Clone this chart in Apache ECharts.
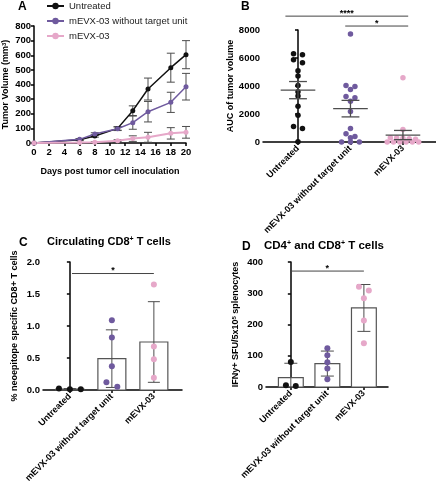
<!DOCTYPE html>
<html>
<head>
<meta charset="utf-8">
<script src="https://cdn.jsdelivr.net/npm/echarts@6/dist/echarts.min.js"></script>
<style>
  html, body { margin: 0; padding: 0; background: #fff; }
  #chart { width: 436px; height: 491px; }
</style>
</head>
<body>
<div id="chart"></div>
<script>
const groups = ["Untreated", "mEVX-03 without target unit", "mEVX-03"];
const colors = ["#111111", "#6f5a9e", "#e6a8c9"];

// A: tumor growth (mean ± SEM)
const days = [0, 6, 8, 11, 13, 15, 18, 20];
const volUntreated = [0, 22, 48, 100, 221, 369, 515, 604];
const semUntreated = [0, 5, 8, 12, 33, 75, 99, 96];
const volNoTarget = [0, 25, 62, 97, 139, 214, 278, 385];
const semNoTarget = [0, 5, 8, 12, 45, 70, 69, 91];
const volEvx = [0, 3, 5, 16, 30, 39, 66, 73];
const semEvx = [0, 2, 3, 6, 19, 34, 39, 40];

// B: AUC of tumor volume per mouse
const aucUntreated = [6300, 6230, 5876, 5664, 5097, 4720, 4035, 3587, 3280, 2549, 1912, 1109, 968, 20];
const aucNoTarget = [7717, 4035, 3965, 3752, 3257, 3162, 2903, 2171, 968, 590, 401, 300, 0, 0, 0];
const aucEvx = [4584, 897, 300, 280, 260, 240, 200, 0, 0, 0, 0, 0, 0];
const aucMean = [3705, 2383, 496];
const aucSem = [614, 590, 330];
const sigB = [[-0.24, 2.1, 8990], [0.9, 2.1, 8283]];
const sigBText = ["****", "*"];

// C: circulating CD8+ T cells
const cd8Untreated = [0.012, 0.025, 0.01];
const cd8NoTarget = [1.09, 0.82, 0.37, 0.12, 0.05];
const cd8Evx = [1.65, 0.68, 0.48, 0.19];
const cd8Mean = [0.015, 0.49, 0.75];
const cd8Sd = [0.008, 0.45, 0.63];
const sigC = [[0.05, 2, 1.82]];

// D: IFNy ELISpot
const sfuUntreated = [80, 6, 3];
const sfuNoTarget = [124, 102, 79, 59, 25];
const sfuEvx = [321, 309, 284, 213, 140];
const sfuMean = [30, 75, 253];
const sfuSd = [46, 40, 75];
const sigD = [[0, 2, 371]];

const font = "'Liberation Sans', Arial, sans-serif";
const axisColor = "#000";
const errColor = "#4d4d4d";

// spread dots with near-equal values sideways, centred on the group
function swarm(values, gi, tol, step) {
  const sorted = values.slice().sort((a, b) => b - a);
  const out = [];
  let i = 0;
  while (i < sorted.length) {
    let j = i;
    while (j + 1 < sorted.length && sorted[i] - sorted[j + 1] < tol) j++;
    const n = j - i + 1;
    for (let k = 0; k < n; k++) out.push([gi + (k - (n - 1) / 2) * step, sorted[i + k]]);
    i = j + 1;
  }
  return out;
}

function lineEl(x1, y1, x2, y2, color, width) {
  return { type: "line", shape: { x1, y1, x2, y2 }, style: { stroke: color, lineWidth: width } };
}

function valueAxis(gi, max, interval, name, nameGap, fmt) {
  return {
    type: "value", gridIndex: gi, min: 0, max, interval,
    name, nameLocation: "middle", nameGap, nameRotate: 90,
    nameTextStyle: {
      fontSize: 9, fontWeight: "bold", color: "#000", fontFamily: font,
      rich: { sup: { fontSize: 6, fontWeight: "bold", verticalAlign: "top", padding: [0, 0, 4, 0] } },
    },
    axisLine: { show: true, lineStyle: { color: axisColor, width: 1.5 } },
    axisTick: { show: true, length: 3, lineStyle: { color: axisColor, width: 1.5 } },
    axisLabel: { fontSize: 9.5, fontWeight: "bold", color: "#000", margin: 3, formatter: fmt || ((v) => String(v)) },
    splitLine: { show: false },
  };
}

function groupAxis(gi, min, max) {
  return {
    type: "value", gridIndex: gi, min, max,
    axisLine: { onZero: false, lineStyle: { color: axisColor, width: 1.5 } },
    axisTick: { customValues: [0, 1, 2], length: 3, lineStyle: { color: axisColor, width: 1.5 } },
    axisLabel: {
      customValues: [0, 1, 2], rotate: 45, margin: 5,
      fontSize: 9, fontWeight: "bold", color: "#000",
      formatter: (v) => groups[Math.round(v)],
    },
    splitLine: { show: false },
  };
}

function errorBars(gi, xs, means, errs, color, cap) {
  return {
    type: "custom", xAxisIndex: gi, yAxisIndex: gi, silent: true, z: 1,
    data: xs.map((x, i) => [x, means[i], errs[i]]),
    renderItem(params, api) {
      const x = api.value(0), m = api.value(1), e = api.value(2);
      const t = api.coord([x, m + e]);
      const b = api.coord([x, Math.max(0, m - e)]);
      return {
        type: "group",
        children: [
          lineEl(t[0], t[1], b[0], b[1], color, 1),
          lineEl(t[0] - cap, t[1], t[0] + cap, t[1], color, 1),
          lineEl(b[0] - cap, b[1], b[0] + cap, b[1], color, 1),
        ],
      };
    },
  };
}

function meanSem(gi, means, sems) {
  return {
    type: "custom", xAxisIndex: gi, yAxisIndex: gi, silent: true, z: 4,
    data: means.map((m, i) => [i, m, sems[i]]),
    renderItem(params, api) {
      const x = api.value(0), m = api.value(1), s = api.value(2);
      const c = api.coord([x, m]), t = api.coord([x, m + s]), b = api.coord([x, m - s]);
      const w = api.size([0.33, 0])[0], cw = api.size([0.17, 0])[0];
      return {
        type: "group",
        children: [
          lineEl(c[0] - w, c[1], c[0] + w, c[1], errColor, 1.3),
          lineEl(t[0], t[1], b[0], b[1], errColor, 1.3),
          lineEl(t[0] - cw, t[1], t[0] + cw, t[1], errColor, 1.3),
          lineEl(b[0] - cw, b[1], b[0] + cw, b[1], errColor, 1.3),
        ],
      };
    },
  };
}

function bars(gi, means, half) {
  return {
    type: "custom", xAxisIndex: gi, yAxisIndex: gi, silent: true, z: 1,
    data: means.map((m, i) => [i, m]),
    renderItem(params, api) {
      const x = api.value(0), m = api.value(1);
      const p0 = api.coord([x - half, m]), p1 = api.coord([x + half, 0]);
      return {
        type: "rect",
        shape: { x: p0[0], y: p0[1], width: p1[0] - p0[0], height: p1[1] - p0[1] },
        style: { fill: "#fff", stroke: "#555", lineWidth: 1.2 },
      };
    },
  };
}

function significance(gi, rows, labels) {
  return {
    type: "custom", xAxisIndex: gi, yAxisIndex: gi, silent: true, clip: false, z: 5,
    data: rows,
    renderItem(params, api) {
      const a = api.coord([api.value(0), api.value(2)]);
      const b = api.coord([api.value(1), api.value(2)]);
      return {
        type: "group",
        children: [
          lineEl(a[0], a[1], b[0], b[1], "#444", 1),
          {
            type: "text",
            style: {
              text: labels[params.dataIndex], x: (a[0] + b[0]) / 2, y: a[1] - 3,
              align: "center", verticalAlign: "middle",
              fontSize: 9, fontWeight: "bold", fontFamily: font, fill: "#000",
            },
          },
        ],
      };
    },
  };
}

function dots(gi, values, idx, tol, step, size) {
  return {
    type: "scatter", xAxisIndex: gi, yAxisIndex: gi, silent: true, z: 3,
    data: swarm(values, idx, tol, step),
    symbol: "circle", symbolSize: size,
    itemStyle: { color: colors[idx], opacity: 1 },
  };
}

const aVols = [volUntreated, volNoTarget, volEvx];
const aSems = [semUntreated, semNoTarget, semEvx];

const letterStyle = { fontSize: 12, fontWeight: "bold", color: "#000" };
const supRich = { sup: { fontSize: 7, fontWeight: "bold", verticalAlign: "top", padding: [0, 0, 5, 0] } };

const chart = echarts.init(document.getElementById("chart"), null, { renderer: "canvas" });

chart.setOption({
  animation: false,
  backgroundColor: "#fff",
  textStyle: { fontFamily: font },
  title: [
    { text: "A", left: 18, top: 1, padding: 0, textStyle: letterStyle },
    { text: "B", left: 241, top: 1, padding: 0, textStyle: letterStyle },
    { text: "C", left: 19, top: 237, padding: 0, textStyle: letterStyle },
    { text: "D", left: 242, top: 241, padding: 0, textStyle: letterStyle },
    {
      text: "Circulating CD8{sup|+} T cells", left: 47, top: 236, padding: 0,
      textStyle: { fontSize: 11, fontWeight: "bold", color: "#000", rich: supRich },
    },
    {
      text: "CD4{sup|+} and CD8{sup|+} T cells", left: 264, top: 240, padding: 0,
      textStyle: { fontSize: 11.5, fontWeight: "bold", color: "#000", rich: supRich },
    },
  ],
  legend: {
    data: groups, orient: "vertical", left: 41, top: -4,
    itemWidth: 17, itemHeight: 8, itemGap: 5,
    textStyle: { fontSize: 9.5, color: "#222" },
  },
  grid: [
    { left: 34, top: 26, width: 152, height: 117 },
    { left: 263, top: 30, width: 173, height: 112 },
    { left: 43, top: 262, width: 139, height: 128 },
    { left: 266, top: 262, width: 122, height: 125 },
  ],
  xAxis: [
    {
      type: "value", gridIndex: 0, min: 0, max: 20, interval: 2,
      name: "Days post tumor cell inoculation", nameLocation: "middle", nameGap: 24,
      nameTextStyle: { fontSize: 9, fontWeight: "bold", color: "#000" },
      axisLine: { lineStyle: { color: axisColor, width: 1.5 } },
      axisTick: { length: 3, lineStyle: { color: axisColor, width: 1.5 } },
      axisLabel: { fontSize: 9.5, fontWeight: "bold", color: "#000", margin: 4 },
      splitLine: { show: false },
    },
    groupAxis(1, -0.667, 2.63),
    groupAxis(2, -0.64, 2.67),
    groupAxis(3, -0.68, 2.66),
  ],
  yAxis: [
    valueAxis(0, 800, 100, "Tumor Volume (mm{sup|3})", 23),
    valueAxis(1, 8000, 2000, "AUC of tumor volume", 25),
    valueAxis(2, 2, 0.5, "% neoepitope specific CD8+ T cells", 24, (v) => v.toFixed(1)),
    valueAxis(3, 400, 100, "IFNy+ SFU/5x10{sup|5} splenocytes", 25),
  ],
  series: [
    ...aVols.map((vals, i) => errorBars(0, days, vals, aSems[i], errColor, 4)),
    ...aVols.map((vals, i) => ({
      type: "line", name: groups[i], xAxisIndex: 0, yAxisIndex: 0, z: 3,
      data: days.map((d, j) => [d, vals[j]]),
      symbol: "circle", symbolSize: 5, showSymbol: true,
      lineStyle: { color: colors[i], width: i === 2 ? 2 : 1.5 },
      itemStyle: { color: colors[i] },
    })),

    meanSem(1, aucMean, aucSem),
    dots(1, aucUntreated, 0, 250, 0.17, 5.5),
    dots(1, aucNoTarget, 1, 250, 0.17, 5.5),
    dots(1, aucEvx, 2, 250, 0.12, 5.5),
    significance(1, sigB, sigBText),

    bars(2, cd8Mean, 0.333),
    errorBars(2, [0, 1, 2], cd8Mean, cd8Sd, errColor, 6),
    dots(2, cd8Untreated, 0, 0.1, 0.26, 6),
    dots(2, cd8NoTarget, 1, 0.1, 0.26, 6),
    dots(2, cd8Evx, 2, 0.1, 0.26, 6),
    significance(2, sigC, ["*"]),

    bars(3, sfuMean, 0.34),
    errorBars(3, [0, 1, 2], sfuMean, sfuSd, errColor, 6.5),
    dots(3, sfuUntreated, 0, 18, 0.27, 6),
    dots(3, sfuNoTarget, 1, 18, 0.27, 6),
    dots(3, sfuEvx, 2, 18, 0.27, 6),
    significance(3, sigD, ["*"]),
  ],
});
</script>
</body>
</html>
